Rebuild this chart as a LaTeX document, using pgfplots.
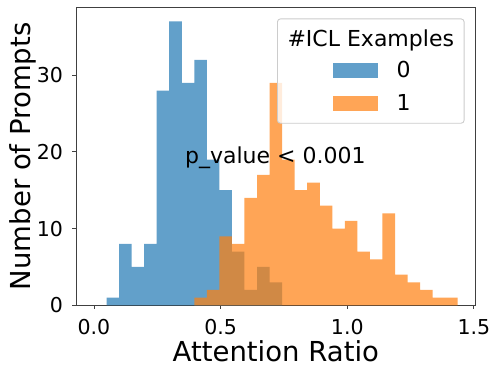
\documentclass[border=0pt]{standalone}
\usepackage{fontspec}
\setmainfont{DejaVu Sans}
\usepackage{pgfplots}
\pgfplotsset{compat=1.18}

\definecolor{tabblue}{HTML}{1F77B4}
\definecolor{taborange}{HTML}{FF7F0E}

% histogram bins: edges k*1.436/29, last row closes the interval
\pgfplotstableread{
x y
0.04952 1
0.09903 8
0.14855 5
0.19807 8
0.24759 28
0.29710 37
0.34662 29
0.39614 32
0.44566 19
0.49517 15
0.54469 7
0.59421 2
0.64372 5
0.69324 3
0.74276 0
}\bluehist
\pgfplotstableread{
x y
0.39614 1
0.44566 2
0.49517 9
0.54469 8
0.59421 14
0.64372 17
0.69324 29
0.74276 19
0.79228 15
0.84179 16
0.89131 13
0.94083 10
0.99034 11
1.03986 7
1.08938 6
1.13890 12
1.18841 4
1.23793 3
1.28745 2
1.33697 1
1.38648 1
1.43600 0
}\orangehist

\begin{document}
\begin{tikzpicture}
\path[use as bounding box] (-76bp,-69.7bp) rectangle (423bp,305.3bp);
\begin{axis}[
  scale only axis, width=399.7bp, height=298bp,
  xmin=-0.071, xmax=1.507, ymin=0, ymax=38.85,
  xtick={0,0.5,1,1.5}, xticklabels={0.0,0.5,1.0,1.5},
  ytick={0,10,20,30},
  tick pos=left, tick align=outside, major tick length=3.5bp,
  axis line style={black!75, line width=0.9bp},
  every tick/.style={black!75, line width=0.9bp},
  tick label style={font=\fontsize{20.5bp}{24bp}\selectfont},
  /pgf/number format/assume math mode=true,
  xticklabel style={inner sep=0pt, anchor=north, yshift=-10.4bp},
  yticklabel style={inner sep=0pt, anchor=east, xshift=-9.3bp},
  xlabel={Attention Ratio},
  ylabel={Number of Prompts},
  label style={font=\fontsize{27.5bp}{32bp}\selectfont},
  xlabel style={at={(axis description cs:0.5,-0.187)}, anchor=base, inner sep=0pt},
  ylabel style={at={(axis description cs:-0.167,0.5)}, anchor=north, inner sep=0pt},
  legend cell align=left,
  legend style={at={(axis description cs:0.7398,0.7336)}, anchor=center,
    draw=none, fill=none, inner sep=0pt, row sep=17.7bp, column sep=19bp,
    nodes={inner sep=0pt, text height=15bp, text depth=0pt,
      font=\fontsize{22bp}{26bp}\selectfont}},
]
\addplot[ybar interval, fill=tabblue, fill opacity=0.7, draw=none,
  legend image code/.code={\fill[tabblue, fill opacity=0.7] (0bp,-7.5bp) rectangle (45bp,7.5bp);}]
  table[x=x, y=y] {\bluehist};
\addlegendentry{0}
\addplot[ybar interval, fill=taborange, fill opacity=0.7, draw=none,
  legend image code/.code={\fill[taborange, fill opacity=0.7] (0bp,-7.5bp) rectangle (45bp,7.5bp);}]
  table[x=x, y=y] {\orangehist};
\addlegendentry{1}
\node[anchor=base west, inner sep=0pt, font=\fontsize{22bp}{26bp}\selectfont]
  at (axis cs:0.359,18.5) {p\_value < 0.001};
\draw[rounded corners=3bp, draw=black!20, line width=0.9bp, fill=white, fill opacity=0.8]
  (axis description cs:0.504,0.611) rectangle (axis description cs:0.971,0.961);
\node[anchor=base, inner sep=0pt, font=\fontsize{22bp}{26bp}\selectfont]
  at (axis description cs:0.7375,0.8678) {\#ICL Examples};
\end{axis}
\end{tikzpicture}
\end{document}
